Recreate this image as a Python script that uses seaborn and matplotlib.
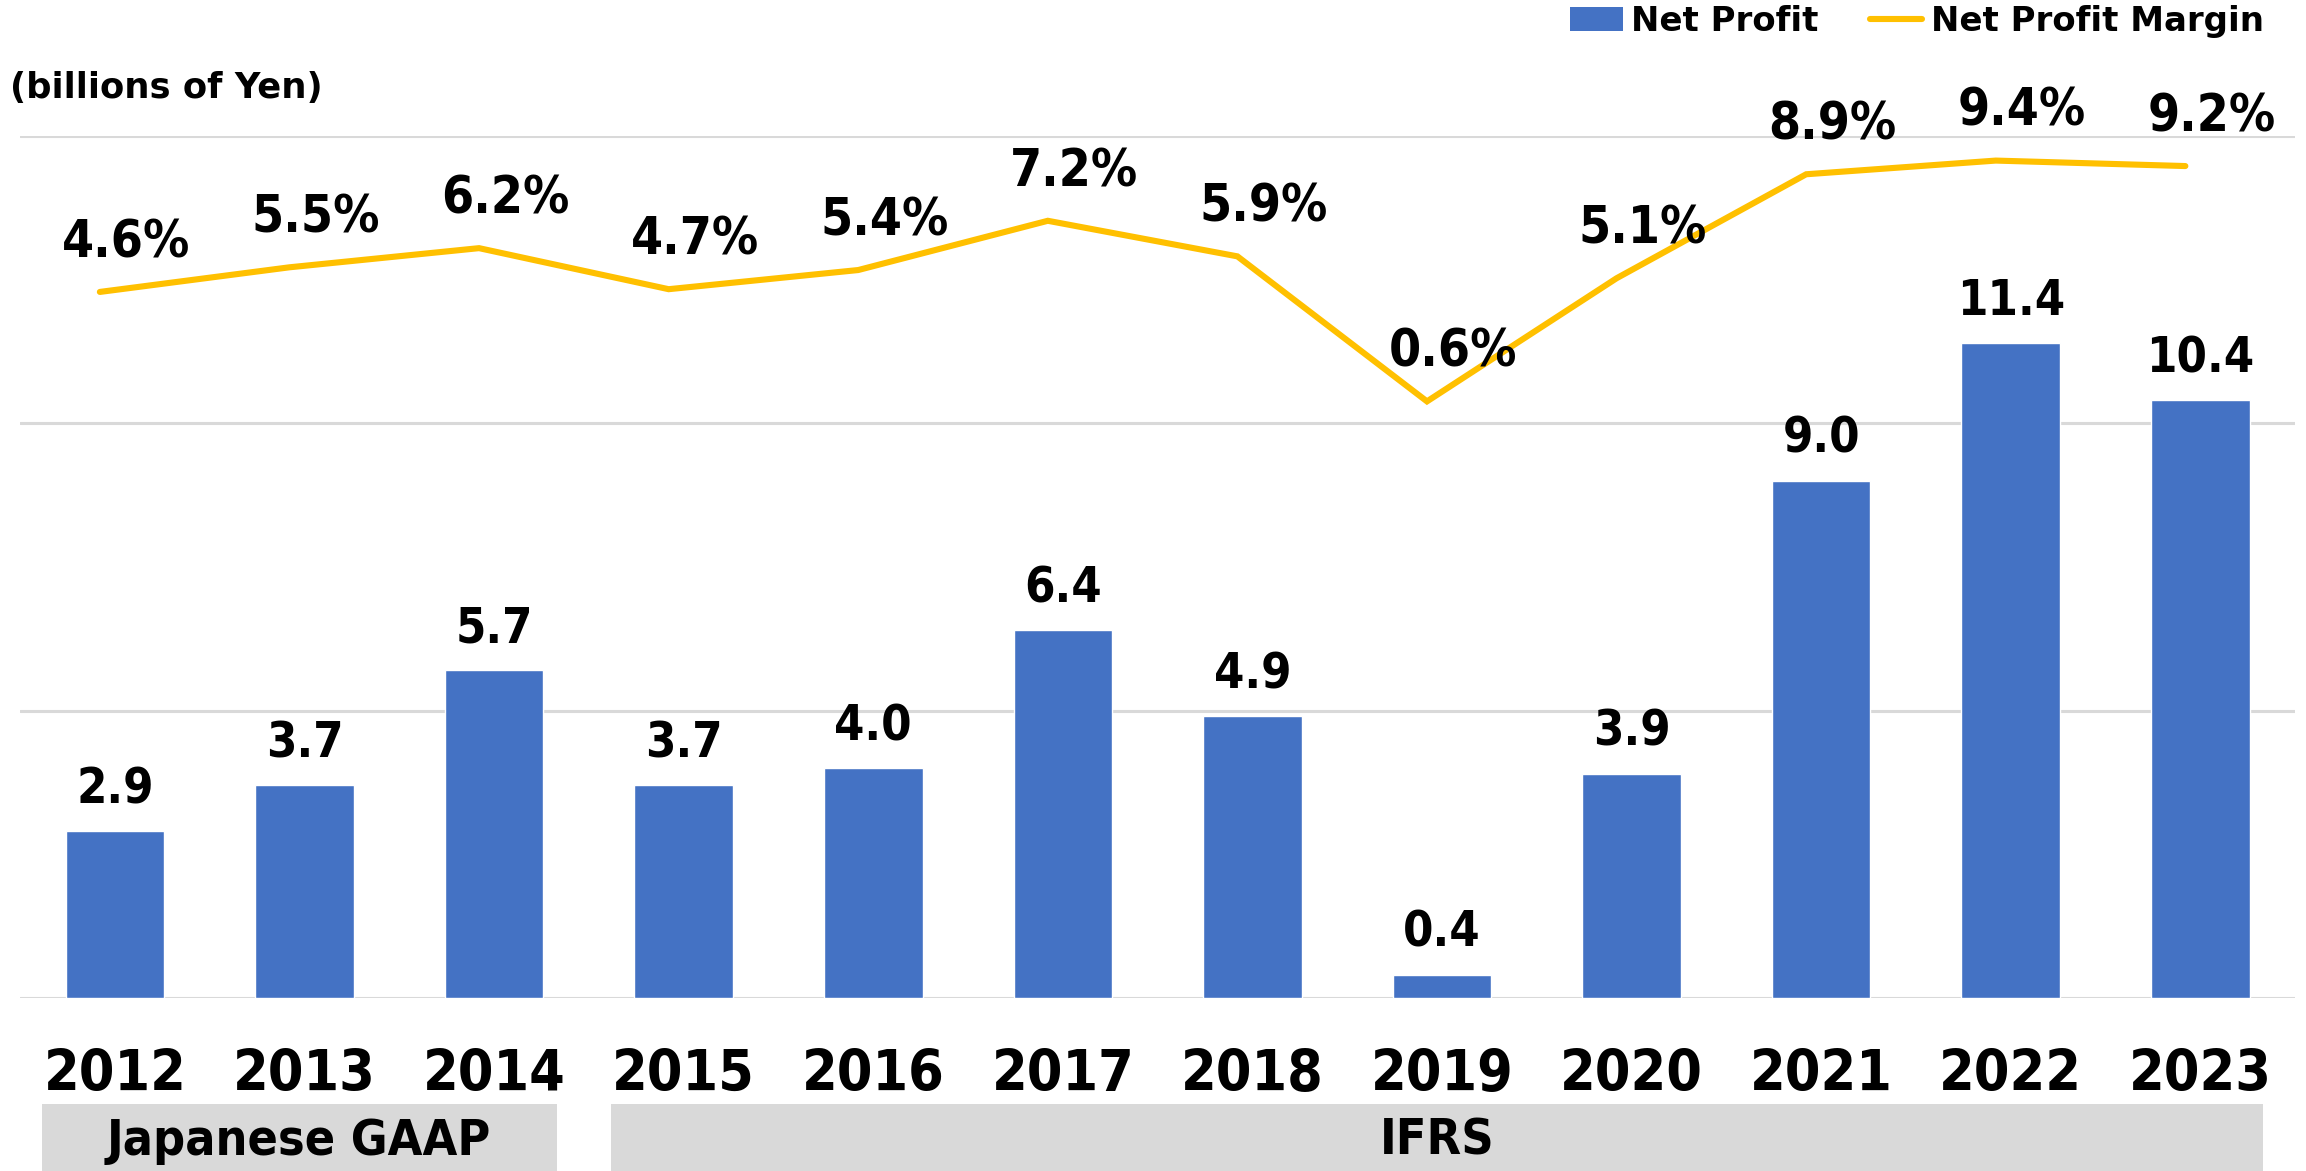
import matplotlib
matplotlib.use('Agg')
import matplotlib.pyplot as plt
import matplotlib.transforms as mtransforms
import numpy as np
import pandas as pd
import seaborn as sns
from matplotlib.lines import Line2D
from matplotlib.patches import Patch, Rectangle

years = ['2012', '2013', '2014', '2015', '2016', '2017',
         '2018', '2019', '2020', '2021', '2022', '2023']
net_profit = [2.9, 3.7, 5.7, 3.7, 4.0, 6.4, 4.9, 0.4, 3.9, 9.0, 11.4, 10.4]
profit_margin = [4.6, 5.5, 6.2, 4.7, 5.4, 7.2, 5.9, 0.6, 5.1, 8.9, 9.4, 9.2]
standards = ['Japanese GAAP', 'IFRS']
standard_years = [3, 9]

BLUE = '#4472C4'
GOLD = '#FFC000'
GRID = '#D9D9D9'

df = pd.DataFrame({'year': years, 'profit': net_profit, 'margin': profit_margin})
df['pos'] = np.arange(len(df))

sns.set_theme(style='white')
plt.rcParams['font.family'] = ['DejaVu Sans']
plt.rcParams['font.stretch'] = 'condensed'
plt.rcParams['font.weight'] = 'bold'
plt.rcParams['text.color'] = 'black'
plt.rcParams['xtick.color'] = 'black'
plt.rcParams['ytick.color'] = 'black'

fig = plt.figure(figsize=(23.06, 11.71), dpi=100)
ax = fig.add_axes([0.0087, 0.1478, 0.9866, 0.7361])

sns.barplot(df, x='year', y='profit', color=BLUE, saturation=1,
            width=0.52, ax=ax, zorder=2)
ax.set_xlim(-0.5, len(years) - 0.5)
ax.set_ylim(0, 15)
ax.set_yticks([0, 5, 10, 15])
ax.yaxis.grid(True, color=GRID, lw=2.2)
ax.set_axisbelow(True)
ax.tick_params(axis='x', length=0, pad=36, labelsize=41)
for lbl in ax.get_xticklabels():
    lbl.set_fontweight('bold')
ax.set_xlabel('')
ax.set_ylabel('')
for s in ax.spines.values():
    s.set_visible(False)
ax.bar_label(ax.containers[0], fmt='%.1f', padding=13,
             fontsize=35, fontweight='bold', color='black')

ax2 = ax.twinx()
sns.lineplot(df, x='pos', y='margin', color=GOLD, lw=4.4, ax=ax2,
             solid_capstyle='round', solid_joinstyle='miter')
ax2.set_xlim(-0.5, len(years) - 0.5)
ax2.set_ylim(-21.2, 10.3)
ax2.set_yticks([])
ax2.set_xlabel('')
ax2.set_ylabel('')
for s in ax2.spines.values():
    s.set_visible(False)
# the margin line sits a touch left of the bar centres, like the original
shift = mtransforms.ScaledTranslation(-0.15, 0, fig.dpi_scale_trans)
ax2.lines[0].set_transform(ax2.transData + shift)
# twinx turns the left ticks back on
ax.tick_params(axis='y', left=False, right=False, labelleft=False, length=0)

for x, v in zip(df['pos'], df['margin']):
    ax2.annotate(f'{v:.1f}%', (x, v), xytext=(8, 25),
                 textcoords='offset points', ha='center', va='baseline',
                 fontsize=37, fontweight='bold', annotation_clip=False)

# accounting standard bands under the year labels
trans = mtransforms.blended_transform_factory(ax.transData, fig.transFigure)
start = 0
for name, n in zip(standards, standard_years):
    x0 = start - 0.385
    x1 = start + n - 1 + 0.33
    fig.patches.append(Rectangle((x0, 0), x1 - x0, 0.0572, transform=trans,
                                 facecolor=GRID, edgecolor='none'))
    fig.text((x0 + x1) / 2, 0.026, name, transform=trans, ha='center',
             va='center', fontsize=36, fontweight='bold')
    start += n

fig.text(0.0043, 0.925, '(billions of Yen)', ha='left', va='center',
         fontsize=25.5, fontweight='bold', fontstretch='normal')

handles = [Patch(facecolor=BLUE, edgecolor='none'),
           Line2D([], [], color=GOLD, lw=4.4, solid_capstyle='round')]
fig.legend(handles, ['Net Profit', 'Net Profit Margin'], loc='upper right',
           bbox_to_anchor=(0.984, 1.0), ncol=2, frameon=False,
           prop={'size': 24.5, 'weight': 'bold', 'stretch': 'normal'},
           handlelength=1.55, handletextpad=0.25, columnspacing=1.5,
           borderpad=0.15, borderaxespad=0)

fig.savefig('out.png', dpi=100)
